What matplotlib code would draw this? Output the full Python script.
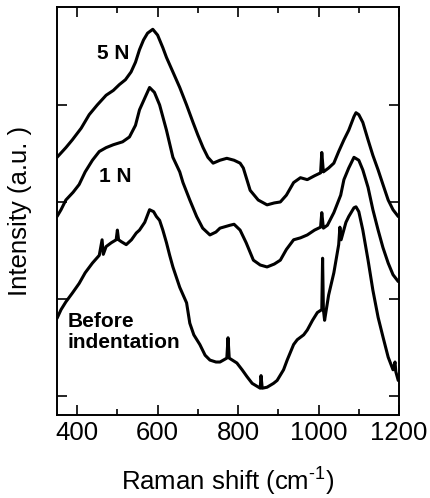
import numpy as np
import matplotlib
matplotlib.use("Agg")
import matplotlib.pyplot as plt

plt.rcParams['font.family'] = ['Liberation Sans', 'DejaVu Sans']
plt.rcParams['mathtext.fontset'] = 'custom'
plt.rcParams['mathtext.rm'] = 'Liberation Sans'

# Raman spectra (offset, arbitrary units)
shift_5n = [350, 372, 388, 410, 430, 450, 472, 490, 505, 520, 534, 545, 555, 565, 575, 588,
            600, 613, 622, 638, 655, 672, 688, 700, 713, 725, 738, 755, 772, 790, 805, 813,
            830, 850, 872, 890, 905, 920, 938, 955, 972, 990, 1005, 1008, 1012, 1025, 1038,
            1050, 1063, 1075, 1088, 1093, 1100, 1110, 1123, 1135, 1148, 1160, 1173, 1185, 1198]
int_5n = [2.46, 2.56, 2.64, 2.76, 2.90, 3.00, 3.10, 3.15, 3.21, 3.26, 3.34, 3.44, 3.57, 3.67, 3.74, 3.78,
          3.72, 3.59, 3.49, 3.34, 3.18, 3.00, 2.82, 2.69, 2.56, 2.46, 2.40, 2.43, 2.45, 2.43, 2.40, 2.35,
          2.12, 2.02, 1.97, 1.99, 2.00, 2.07, 2.20, 2.25, 2.23, 2.27, 2.30, 2.51, 2.31, 2.35, 2.40,
          2.52, 2.64, 2.74, 2.88, 2.92, 2.90, 2.82, 2.64, 2.48, 2.33, 2.18, 2.02, 1.92, 1.85]

shift_1n = [350, 360, 372, 390, 405, 420, 438, 455, 472, 490, 513, 530, 545, 555, 568, 580,
            592, 605, 622, 638, 655, 663, 680, 697, 712, 730, 745, 755, 780, 790, 805, 820,
            838, 855, 872, 890, 905, 920, 938, 955, 972, 990, 1005, 1008, 1012, 1022, 1038,
            1055, 1063, 1075, 1088, 1100, 1110, 1123, 1135, 1148, 1160, 1173, 1185, 1198]
int_1n = [1.85, 1.92, 2.02, 2.10, 2.18, 2.31, 2.43, 2.52, 2.56, 2.59, 2.62, 2.67, 2.79, 2.95, 3.07, 3.18,
          3.13, 3.00, 2.74, 2.46, 2.31, 2.20, 2.02, 1.85, 1.73, 1.66, 1.69, 1.73, 1.76, 1.77, 1.71, 1.58,
          1.40, 1.35, 1.33, 1.36, 1.40, 1.51, 1.61, 1.63, 1.66, 1.71, 1.74, 1.89, 1.73, 1.76, 1.89,
          2.07, 2.23, 2.35, 2.46, 2.43, 2.33, 2.15, 1.92, 1.71, 1.53, 1.37, 1.25, 1.18]

shift_before = [350, 360, 372, 388, 405, 420, 438, 455, 462, 465, 472, 485, 497, 500, 503, 510,
                522, 535, 547, 555, 568, 580, 590, 597, 605, 613, 622, 630, 638, 655, 672, 680,
                690, 705, 718, 730, 745, 755, 772, 775, 778, 797, 810, 822, 835, 847, 855, 857,
                860, 872, 888, 897, 913, 922, 938, 947, 963, 972, 985, 997, 1008, 1010, 1012,
                1015, 1025, 1038, 1050, 1053, 1056, 1068, 1075, 1088, 1093, 1100, 1110, 1123,
                1135, 1148, 1160, 1173, 1185, 1190, 1192, 1198]
int_before = [0.80, 0.89, 0.97, 1.06, 1.16, 1.27, 1.37, 1.45, 1.61, 1.46, 1.54, 1.58, 1.61, 1.71, 1.61, 1.59,
              1.56, 1.61, 1.68, 1.71, 1.79, 1.92, 1.90, 1.85, 1.81, 1.71, 1.58, 1.45, 1.33, 1.12, 0.96, 0.75,
              0.63, 0.53, 0.42, 0.37, 0.35, 0.35, 0.39, 0.60, 0.39, 0.34, 0.27, 0.20, 0.13, 0.10, 0.08, 0.21,
              0.08, 0.09, 0.13, 0.16, 0.27, 0.37, 0.53, 0.58, 0.63, 0.68, 0.78, 0.86, 0.89, 1.42, 0.89,
              0.78, 1.04, 1.27, 1.56, 1.74, 1.61, 1.79, 1.85, 1.94, 1.95, 1.90, 1.71, 1.40,
              1.09, 0.81, 0.61, 0.40, 0.27, 0.35, 0.25, 0.16]

fig = plt.figure(figsize=(4.3, 4.98), dpi=100)
ax = fig.add_axes([0.1326, 0.1667, 0.7954, 0.8193])

for xs, ys in [(shift_5n, int_5n), (shift_1n, int_1n), (shift_before, int_before)]:
    ax.plot(xs, ys, color='black', lw=2.2, solid_joinstyle='round', solid_capstyle='round')

ax.text(450, 3.47, '5 N', fontsize=15, fontweight='bold')
ax.text(455, 2.21, '1 N', fontsize=15, fontweight='bold')
ax.text(377, 0.71, 'Before', fontsize=15, fontweight='bold')
ax.text(377, 0.49, 'indentation', fontsize=15, fontweight='bold')

ax.set_xlim(350, 1200)
ax.set_ylim(-0.196, 4.01)
ax.set_xticks([400, 600, 800, 1000, 1200])
ax.set_xticks([500, 700, 900, 1100], minor=True)
ax.set_yticks([0, 1, 2, 3])
ax.set_yticklabels([])
ax.tick_params(which='both', direction='in', top=True, right=True, width=1.2, labelsize=18.5, pad=4)
ax.tick_params(which='major', length=7.5)
ax.tick_params(which='minor', length=4)
for s in ax.spines.values():
    s.set_linewidth(1.4)

ax.set_xlabel('Raman shift (cm$^{\\text{-1}}$)', fontsize=18.5, labelpad=14)
ax.set_ylabel('Intensity (a.u. )', fontsize=18.5, labelpad=14)

fig.savefig('out.png', dpi=100)
